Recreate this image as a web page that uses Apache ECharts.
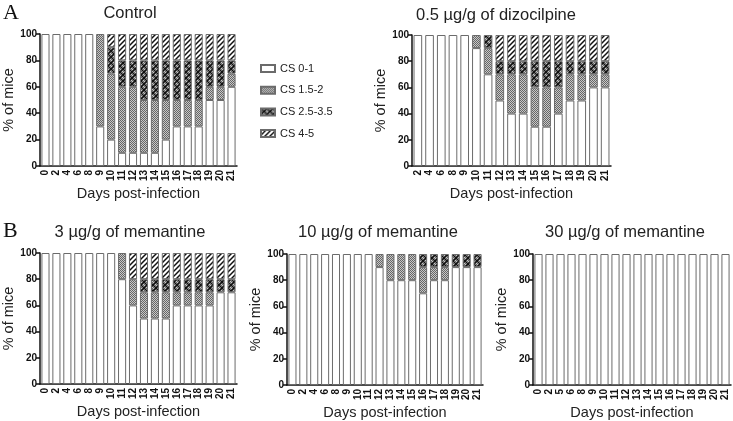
<!DOCTYPE html>
<html>
<head>
<meta charset="utf-8">
<script src="https://cdn.jsdelivr.net/npm/echarts@6/dist/echarts.min.js"></script>
<style>
  html, body { margin: 0; padding: 0; background: #fff; }
  #main { width: 733px; height: 421px; }
</style>
</head>
<body>
<div id="main"></div>
<script>
// categories (days post-infection) for each panel
var ctrlDays = ['0', '2', '4', '6', '8', '9', '10', '11', '12', '13', '14', '15', '16', '17', '18', '19', '20', '21'];
var dizoDays = ['2', '4', '6', '8', '9', '10', '11', '12', '13', '14', '15', '16', '17', '18', '19', '20', '21'];
var mem3Days = ['0', '2', '4', '6', '8', '9', '10', '11', '12', '13', '14', '15', '16', '17', '18', '19', '20', '21'];
var mem10Days = ['0', '2', '4', '6', '8', '9', '10', '11', '12', '13', '14', '15', '16', '17', '18', '19', '20', '21'];
var mem30Days = ['0', '2', '5', '6', '8', '9', '10', '11', '12', '13', '14', '15', '16', '17', '18', '19', '20', '21'];

// % of mice in each clinical score group
var ctrlCS01   = [100, 100, 100, 100, 100, 30, 20, 10, 10, 10, 10, 20, 30, 30, 30, 50, 50, 60];
var ctrlCS152  = [0, 0, 0, 0, 0, 70, 50, 50, 50, 40, 40, 30, 20, 20, 20, 10, 10, 10];
var ctrlCS2535 = [0, 0, 0, 0, 0, 0, 20, 20, 20, 30, 30, 30, 30, 30, 30, 20, 20, 10];
var ctrlCS45   = [0, 0, 0, 0, 0, 0, 10, 20, 20, 20, 20, 20, 20, 20, 20, 20, 20, 20];

var dizoCS01   = [100, 100, 100, 100, 100, 90, 70, 50, 40, 40, 30, 30, 40, 50, 50, 60, 60];
var dizoCS152  = [0, 0, 0, 0, 0, 10, 20, 20, 30, 30, 30, 30, 20, 20, 20, 10, 10];
var dizoCS2535 = [0, 0, 0, 0, 0, 0, 10, 10, 10, 10, 20, 20, 20, 10, 10, 10, 10];
var dizoCS45   = [0, 0, 0, 0, 0, 0, 0, 20, 20, 20, 20, 20, 20, 20, 20, 20, 20];

var mem3CS01   = [100, 100, 100, 100, 100, 100, 100, 80, 60, 50, 50, 50, 60, 60, 60, 60, 70, 70];
var mem3CS152  = [0, 0, 0, 0, 0, 0, 0, 20, 20, 20, 20, 20, 10, 10, 10, 10, 0, 0];
var mem3CS2535 = [0, 0, 0, 0, 0, 0, 0, 0, 0, 10, 10, 10, 10, 10, 10, 10, 10, 10];
var mem3CS45   = [0, 0, 0, 0, 0, 0, 0, 0, 20, 20, 20, 20, 20, 20, 20, 20, 20, 20];

var mem10CS01   = [100, 100, 100, 100, 100, 100, 100, 100, 90, 80, 80, 80, 70, 80, 80, 90, 90, 90];
var mem10CS152  = [0, 0, 0, 0, 0, 0, 0, 0, 10, 20, 20, 20, 20, 10, 10, 0, 0, 0];
var mem10CS2535 = [0, 0, 0, 0, 0, 0, 0, 0, 0, 0, 0, 0, 10, 10, 10, 10, 10, 10];
var mem10CS45   = [0, 0, 0, 0, 0, 0, 0, 0, 0, 0, 0, 0, 0, 0, 0, 0, 0, 0];

var mem30CS01   = [100, 100, 100, 100, 100, 100, 100, 100, 100, 100, 100, 100, 100, 100, 100, 100, 100, 100];
var mem30CS152  = [0, 0, 0, 0, 0, 0, 0, 0, 0, 0, 0, 0, 0, 0, 0, 0, 0, 0];
var mem30CS2535 = [0, 0, 0, 0, 0, 0, 0, 0, 0, 0, 0, 0, 0, 0, 0, 0, 0, 0];
var mem30CS45   = [0, 0, 0, 0, 0, 0, 0, 0, 0, 0, 0, 0, 0, 0, 0, 0, 0, 0];

var groupNames = ['CS 0-1', 'CS 1.5-2', 'CS 2.5-3.5', 'CS 4-5'];
var yTicks = [0, 20, 40, 60, 80, 100];

var FONT = '"Liberation Sans", Arial, sans-serif';

// small canvas fills for the hatch patterns
function dotCanvas(c, size) {
	var ctx = c.getContext('2d');
	ctx.fillStyle = '#c8c8c8';
	ctx.fillRect(0, 0, size, size);
	ctx.fillStyle = '#666';
	for (var x = 0; x < size; x++) {
		for (var y = 0; y < size; y++) {
			if ((x + y) % 2 == 0) ctx.fillRect(x, y, 1, 1);
		}
	}
	return ctx;
}

function makePattern(kind) {
	var c = document.createElement('canvas');
	var ctx;
	if (kind == 'dots') {
		c.width = c.height = 4;
		dotCanvas(c, 4);
	} else if (kind == 'cross') {
		c.width = c.height = 6;
		ctx = dotCanvas(c, 6);
		ctx.strokeStyle = '#111';
		ctx.lineWidth = 1.3;
		ctx.beginPath();
		ctx.moveTo(0, 0); ctx.lineTo(6, 6);
		ctx.moveTo(6, 0); ctx.lineTo(0, 6);
		ctx.stroke();
	} else if (kind == 'hatch') {
		c.width = c.height = 5;
		ctx = c.getContext('2d');
		ctx.fillStyle = '#fff';
		ctx.fillRect(0, 0, 5, 5);
		ctx.strokeStyle = '#111';
		ctx.lineWidth = 1.5;
		ctx.beginPath();
		ctx.moveTo(0, 5); ctx.lineTo(5, 0);
		ctx.moveTo(-1, 1); ctx.lineTo(1, -1);
		ctx.moveTo(4, 6); ctx.lineTo(6, 4);
		ctx.stroke();
	}
	return { image: c, repeat: 'repeat' };
}

var groupFills = ['#ffffff', makePattern('dots'), makePattern('cross'), makePattern('hatch')];

var panels = [
	{ title: 'Control', days: ctrlDays, values: [ctrlCS01, ctrlCS152, ctrlCS2535, ctrlCS45],
	  grid: { left: 40, top: 34, width: 197, height: 132 }, titleX: 130, titleY: 13 },
	{ title: '0.5 µg/g of dizocilpine', days: dizoDays, values: [dizoCS01, dizoCS152, dizoCS2535, dizoCS45],
	  grid: { left: 412, top: 35, width: 199, height: 131 }, titleX: 496, titleY: 15 },
	{ title: '3 µg/g of memantine', days: mem3Days, values: [mem3CS01, mem3CS152, mem3CS2535, mem3CS45],
	  grid: { left: 40, top: 253, width: 197, height: 131 }, titleX: 130, titleY: 232 },
	{ title: '10 µg/g of memantine', days: mem10Days, values: [mem10CS01, mem10CS152, mem10CS2535, mem10CS45],
	  grid: { left: 287, top: 254, width: 196, height: 133 }, titleX: 378, titleY: 232 },
	{ title: '30 µg/g of memantine', days: mem30Days, values: [mem30CS01, mem30CS152, mem30CS2535, mem30CS45],
	  grid: { left: 533, top: 254, width: 198, height: 132 }, titleX: 625, titleY: 232 }
];

var grids = [], xAxes = [], yAxes = [], series = [];
var graphics = [
	{ type: 'text', left: 3, top: 2, style: { text: 'A', font: '22px "Liberation Serif", serif', fill: '#111' } },
	{ type: 'text', left: 3, top: 220, style: { text: 'B', font: '22px "Liberation Serif", serif', fill: '#111' } }
];

panels.forEach(function (p, i) {
	grids.push(p.grid);
	xAxes.push({
		type: 'category',
		gridIndex: i,
		data: p.days,
		name: 'Days post-infection',
		nameLocation: 'middle',
		nameGap: 20,
		nameTextStyle: { fontFamily: FONT, fontSize: 14.5, color: '#222' },
		axisLine: { lineStyle: { color: '#111', width: 1.5 } },
		axisTick: { show: false },
		axisLabel: { interval: 0, rotate: 90, margin: 4, fontFamily: FONT, fontSize: 10, fontWeight: 'bold', color: '#111' }
	});
	yAxes.push({
		type: 'value',
		gridIndex: i,
		min: yTicks[0],
		max: yTicks[yTicks.length - 1],
		interval: 20,
		name: '% of mice',
		nameLocation: 'middle',
		nameGap: 23,
		nameTextStyle: { fontFamily: FONT, fontSize: 14.5, color: '#222' },
		axisLine: { show: true, lineStyle: { color: '#111', width: 1.5 } },
		axisTick: { show: true, length: 4, lineStyle: { color: '#111', width: 1.5 } },
		axisLabel: { margin: 3, fontFamily: FONT, fontSize: 10, fontWeight: 'bold', color: '#111' },
		splitLine: { show: false }
	});
	groupNames.forEach(function (name, g) {
		series.push({
			name: name,
			type: 'bar',
			xAxisIndex: i,
			yAxisIndex: i,
			stack: 'p' + i,
			barCategoryGap: '26%',
			itemStyle: { color: groupFills[g], borderColor: '#6b6b6b', borderWidth: 1 },
			emphasis: { disabled: true },
			data: p.values[g].map(function (v) { return v == 0 ? '-' : v; })
		});
	});
	graphics.push({
		type: 'text',
		x: p.titleX,
		y: p.titleY,
		style: { text: p.title, font: '16.5px ' + FONT, fill: '#222', align: 'center', verticalAlign: 'middle' }
	});
});

var chart = echarts.init(document.getElementById('main'), null, { renderer: 'canvas' });
chart.setOption({
	animation: false,
	backgroundColor: '#fff',
	grid: grids,
	xAxis: xAxes,
	yAxis: yAxes,
	legend: {
		data: groupNames,
		orient: 'vertical',
		left: 255,
		top: 58,
		icon: 'rect',
		itemWidth: 14,
		itemHeight: 7,
		itemGap: 10.7,
		textStyle: { fontFamily: FONT, fontSize: 11, color: '#222' },
		selectedMode: false
	},
	graphic: graphics,
	series: series
});
</script>
</body>
</html>
